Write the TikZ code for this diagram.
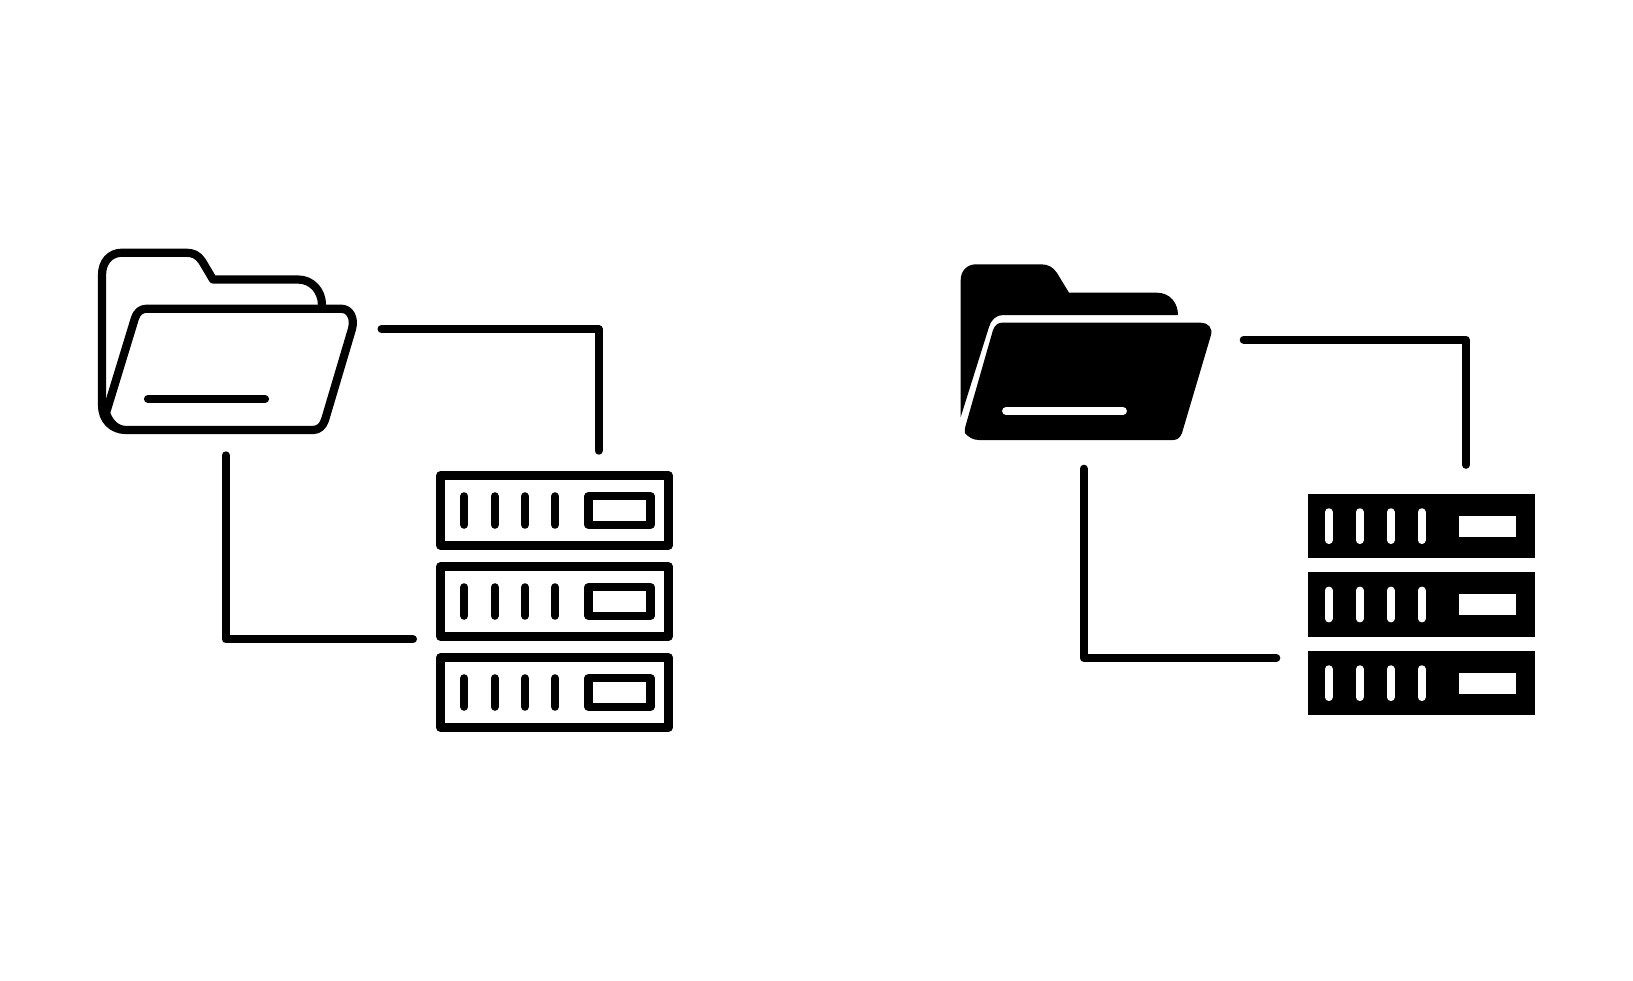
\documentclass[tikz,border=0pt]{standalone}
\begin{document}
\begin{tikzpicture}[x=1pt,y=-1pt,
  icon/.style={line width=8.2pt,line join=round,line cap=round,draw=black},
  link/.style={line width=8pt,line join=round,line cap=round,draw=black},
  solid link/.style={line width=7.6pt,line join=round,line cap=round,draw=black},
  hole/.style={line width=7.8pt,line cap=round,draw=white},
  solid part/.style={fill=black,draw=none},
  unit/.style={draw=black,line width=8.2pt,line join=round,fill=white,rectangle,minimum width=228pt,minimum height=70pt,inner sep=0pt,outer sep=0pt},
  screen/.style={draw=black,line width=8.2pt,line join=round,rectangle,minimum width=62pt,minimum height=28.5pt,inner sep=0pt,outer sep=0pt},
  solid unit/.style={fill=black,draw=none,rectangle,minimum width=227pt,minimum height=64.3pt,inner sep=0pt,outer sep=0pt},
  solid screen/.style={fill=white,draw=none,rectangle,minimum width=56.4pt,minimum height=21pt,inner sep=0pt,outer sep=0pt}]
\useasboundingbox (0,0) rectangle (1633,980);
\fill[white] (0,0) rectangle (1633,980);

% ---- outline folder
\draw[icon] (102,405) -- (102,275) .. controls (102,262) and (110,252.7) .. (122,252.7)
  -- (186,252.7) .. controls (193,252.7) and (198,255) .. (202,261)
  -- (213,279.5) -- (298,279.5) .. controls (312,279.5) and (322,291) .. (322,305);
\draw[icon] (102,405) .. controls (102,420) and (112,430) .. (126,430) -- (313,430)
  .. controls (319,430) and (323,426) .. (325,420)
  -- (352,329) .. controls (355,318) and (350,308.7) .. (341,308.7)
  -- (147,308.7) .. controls (141,308.7) and (137,312) .. (135,318)
  -- (106,413) .. controls (109,422) and (116,430) .. (126,430);
\draw[icon] (148,399) -- (265,399);

% ---- outline servers
\foreach \n/\y in {a/510.5,b/601.5,c/692.5}{
  \node[unit] (unit\n) at (554.5,\y) {};
  \node[screen] (screen\n) at (619.5,\y) {};
  \foreach \xx in {464.3,494.7,525,555}
    \draw[icon] (\xx,\y-14.2) -- (\xx,\y+14.2);
}

% ---- outline connectors
\coordinate (la) at (381.5,329);
\coordinate (lb) at (598.5,329);
\coordinate (lc) at (598.5,450.7);
\coordinate (ld) at (225.7,455.3);
\coordinate (le) at (225.7,639.3);
\coordinate (lf) at (413,639.3);
\draw[link] (la) -- (lb) -- (lc);
\draw[link] (ld) -- (le) -- (lf);

% ---- solid folder
\path[solid part] (960.7,417) -- (960.7,280) .. controls (960.7,271) and (967,264.3) .. (976,264.3)
  -- (1041,264.3) .. controls (1048,264.3) and (1053,267) .. (1057,273)
  -- (1069,292.7) -- (1157,292.7) .. controls (1170,292.7) and (1178,303) .. (1178,315)
  -- (1003,315) .. controls (996,315) and (991,320) .. (989,327) -- cycle;
\path[solid part] (1002,322.7) -- (1201,322.7) .. controls (1208,322.7) and (1213,328) .. (1211,335)
  -- (1182,433) .. controls (1180,438) and (1177,440) .. (1173,440)
  -- (979,440) .. controls (973,440) and (968,437) .. (965,433)
  .. controls (964.5,431) and (964.8,428) .. (965.5,426)
  -- (993,330) .. controls (995,325) and (998,322.7) .. (1002,322.7) -- cycle;
\draw[hole] (1006,411) -- (1123,411);

% ---- solid servers
\foreach \n/\y in {a/526.15,b/604.5,c/683.15}{
  \node[solid unit] (sunit\n) at (1421.2,\y) {};
  \node[solid screen] (sscreen\n) at (1487.5,\y) {};
  \foreach \xx in {1328.7,1359.7,1390.7,1421.7}
    \draw[hole] (\xx,\y-14) -- (\xx,\y+14);
}

% ---- solid connectors
\coordinate (ra) at (1243.5,339.7);
\coordinate (rb) at (1466,339.7);
\coordinate (rc) at (1466,465);
\coordinate (rd) at (1083.7,468.5);
\coordinate (re) at (1083.7,658);
\coordinate (rf) at (1276.5,658);
\draw[solid link] (ra) -- (rb) -- (rc);
\draw[solid link] (rd) -- (re) -- (rf);
\end{tikzpicture}
\end{document}
